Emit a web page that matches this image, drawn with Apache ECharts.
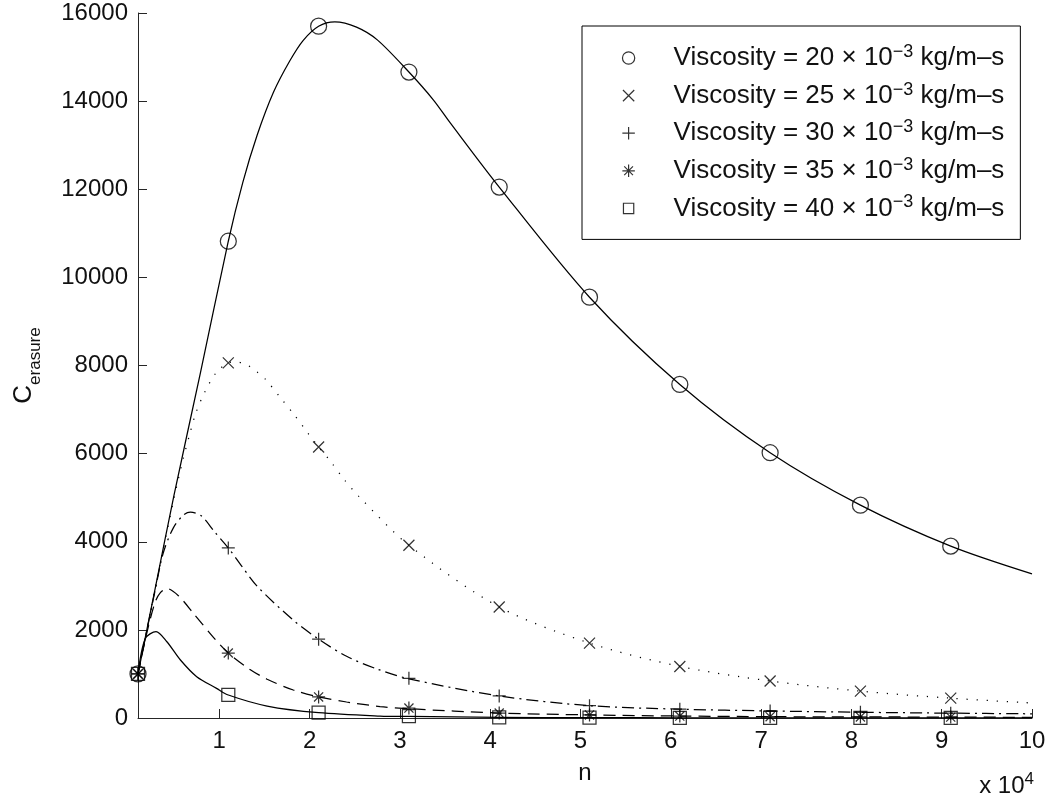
<!DOCTYPE html>
<html>
<head>
<meta charset="utf-8">
<script src="https://cdn.jsdelivr.net/npm/echarts@6/dist/echarts.min.js"></script>
<style>
html,body{margin:0;padding:0;background:#fff;}
#chart{width:1051px;height:801px;}
</style>
</head>
<body>
<div id="chart"></div>
<script>
// ---- data (x in units of 10^4) ----
const xTickValues = [1, 2, 3, 4, 5, 6, 7, 8, 9, 10];
const viscosities = [20, 25, 30, 35, 40];

const markerX  = [0.1, 1.1, 2.1, 3.1, 4.1, 5.1, 6.1, 7.1, 8.1, 9.1];
const marker20 = [1000, 10820, 15700, 14660, 12050, 9550, 7570, 6020, 4830, 3900];
const marker25 = [1000, 8060, 6150, 3920, 2520, 1700, 1170, 840, 610, 450];
const marker30 = [1000, 3860, 1790, 900, 500, 280, 200, 160, 130, 110];
const marker35 = [1000, 1475, 477, 225, 113, 70, 45, 30, 25, 20];
const marker40 = [1000, 522, 120, 40, 15, 8, 5, 3, 2, 2];

const curveX20 = [0.1, 0.3, 0.5, 0.79, 1.1, 1.26, 1.42, 1.6, 1.78, 1.93, 2.1, 2.28, 2.52, 2.75, 3.1, 3.37, 3.56, 4.1, 5.1, 6.1, 7.1, 8.1, 9.1, 10];
const curve20  = [1000, 3040, 5070, 7820, 10820, 12150, 13230, 14200, 14910, 15380, 15700, 15800, 15680, 15390, 14660, 14030, 13500, 12050, 9550, 7570, 6020, 4830, 3900, 3270];

const curveX25 = [0.1, 0.3, 0.5, 0.6, 0.67, 0.74, 0.84, 0.97, 1.1, 1.19, 1.31, 1.42, 1.51, 1.67, 1.83, 1.98, 2.1, 2.23, 2.38, 2.55, 3.1, 4.1, 5.1, 6.1, 7.1, 8.1, 9.1, 10];
const curve25  = [1000, 3040, 5000, 5880, 6420, 6920, 7400, 7850, 8060, 8080, 8010, 7850, 7690, 7290, 6880, 6470, 6150, 5830, 5420, 5020, 3920, 2520, 1700, 1170, 840, 610, 450, 340];

const curveX30 = [0.1, 0.3, 0.38, 0.49, 0.6, 0.68, 0.8, 0.95, 1.1, 1.23, 1.42, 1.82, 2.1, 2.41, 2.75, 3.1, 4.1, 5.1, 6.1, 7.1, 8.1, 9.1, 10];
const curve30  = [1000, 3000, 3750, 4310, 4600, 4670, 4590, 4220, 3860, 3500, 2990, 2220, 1790, 1400, 1110, 890, 500, 280, 200, 160, 130, 110, 95];

const curveX35 = [0.1, 0.2, 0.29, 0.35, 0.42, 0.55, 0.72, 0.94, 1.1, 1.34, 1.53, 1.82, 2.1, 2.41, 2.78, 3.1, 4.1, 5.1, 6.1, 7.1, 8.1, 9.1, 10];
const curve35  = [1000, 1950, 2630, 2850, 2940, 2770, 2360, 1820, 1475, 1100, 880, 635, 477, 363, 260, 210, 113, 70, 45, 30, 25, 20, 15];

const curveX40 = [0.1, 0.18, 0.3, 0.42, 0.57, 0.75, 0.97, 1.1, 1.53, 2.1, 2.78, 3.1, 4.1, 5.1, 6.1, 7.1, 8.1, 9.1, 10];
const curve40  = [1000, 1800, 1960, 1730, 1316, 938, 673, 522, 272, 120, 45, 35, 15, 8, 5, 3, 2, 2, 1];

const markerSets = [marker20, marker25, marker30, marker35, marker40];
const curveXs = [curveX20, curveX25, curveX30, curveX35, curveX40];
const curveYs = [curve20, curve25, curve30, curve35, curve40];

// ---- styling ----
const FONT = 'Liberation Sans, Arial, Helvetica, sans-serif';
const TXT = '#111';
const AX = '#262626';
const seriesNames = viscosities.map(v => 'Viscosity = ' + v + ' × 10−3 kg/m–s');
const symbols = [
  'circle',
  'path://M0 0L10 10M0 10L10 0',
  'path://M5 0L5 10M0 5L10 5',
  'path://M5 0L5 10M0 5L10 5M1.5 1.5L8.5 8.5M1.5 8.5L8.5 1.5',
  'path://M0 0L10 0L10 10L0 10Z'
];
// legend icons: same shapes, with invisible move-to points to leave a margin
const legendIcons = [
  'path://M-0.7 -0.7M10 5A5 5 0 1 1 0 5A5 5 0 1 1 10 5ZM10.7 10.7',
  'path://M-1.2 -1.2M0 0L10 10M0 10L10 0M11.2 11.2',
  'path://M-0.6 -0.6M5 0L5 10M0 5L10 5M10.6 10.6',
  'path://M-0.6 -0.6M5 0L5 10M0 5L10 5M1.5 1.5L8.5 8.5M1.5 8.5L8.5 1.5M10.6 10.6',
  'path://M-1.8 -1.8M0 0L10 0L10 10L0 10ZM11.8 11.8'
];
const symbolSizes = [16, 11, 13, 13, 13];
const lineTypes = ['solid', [1.2, 8.8], [12, 5, 2, 5], [12, 7], 'solid'];

const pairs = (xs, ys) => xs.map((x, i) => [x, ys[i]]);

const series = [];
for (let i = 0; i < 5; i++) {
  series.push({
    name: 'curve' + viscosities[i],
    type: 'line',
    data: pairs(curveXs[i], curveYs[i]),
    showSymbol: false,
    symbol: 'none',
    smooth: 0.3,
    silent: true,
    z: 2,
    lineStyle: { color: '#000', width: 1.25, type: lineTypes[i] }
  });
}
for (let i = 0; i < 5; i++) {
  series.push({
    name: seriesNames[i],
    type: 'scatter',
    data: pairs(markerX, markerSets[i]),
    symbol: symbols[i],
    symbolSize: symbolSizes[i],
    silent: true,
    z: 3,
    itemStyle: { color: 'rgba(0,0,0,0)', borderColor: '#000', borderWidth: 1.25 }
  });
}

const chart = echarts.init(document.getElementById('chart'), null, { renderer: 'canvas', width: 1051, height: 801 });
chart.setOption({
  animation: false,
  backgroundColor: '#fff',
  grid: { left: 138, right: 19, top: 13, bottom: 83 },
  xAxis: {
    type: 'value', min: 0.1, max: 10,
    axisLine: { show: true, onZero: false, lineStyle: { color: AX, width: 1 } },
    axisTick: { show: true, inside: true, length: 9, customValues: xTickValues, lineStyle: { color: AX } },
    axisLabel: { customValues: xTickValues, margin: 11, fontSize: 24, fontFamily: FONT, color: TXT,
      formatter: v => String(v) },
    splitLine: { show: false },
    name: 'n', nameLocation: 'middle', nameGap: 43,
    nameTextStyle: { fontSize: 24, fontFamily: FONT, color: TXT }
  },
  yAxis: {
    type: 'value', min: 0, max: 16000, interval: 2000,
    axisLine: { show: true, onZero: false, lineStyle: { color: AX, width: 1 } },
    axisTick: { show: true, inside: true, length: 9, lineStyle: { color: AX } },
    axisLabel: { margin: 10, fontSize: 24, fontFamily: FONT, color: TXT, formatter: v => String(v) },
    splitLine: { show: false },
    name: '{c|C}{s|erasure}', nameLocation: 'middle', nameRotate: 90, nameGap: 94,
    nameTextStyle: {
      color: TXT, fontFamily: FONT,
      rich: {
        c: { fontSize: 26, lineHeight: 40, fontFamily: FONT, color: TXT },
        s: { fontSize: 17, lineHeight: 17, verticalAlign: 'bottom', fontFamily: FONT, color: TXT }
      }
    }
  },
  legend: {
    orient: 'vertical', left: 582, top: 26,
    padding: [17, 16, 16, 39], itemGap: 7.6, itemWidth: 14, itemHeight: 14,
    backgroundColor: '#fff', borderColor: '#000', borderWidth: 1, borderRadius: 0,
    selectedMode: false,
    itemStyle: { color: 'rgba(0,0,0,0)', borderColor: '#000', borderWidth: 1.2 },
    data: seriesNames.map((n, i) => ({ name: n, icon: legendIcons[i] })),
    formatter: function (name) {
      const v = name.match(/= (\d+)/)[1];
      return 'Viscosity = ' + v + ' × 10{sup|−3} kg/m–s';
    },
    textStyle: {
      fontSize: 26, lineHeight: 30, fontFamily: FONT, color: TXT,
      padding: [0, 0, 0, 33],
      rich: { sup: { fontSize: 18, lineHeight: 12, verticalAlign: 'top', fontFamily: FONT, color: TXT } }
    }
  },
  graphic: [{
    type: 'text', z: 10,
    style: {
      x: 1034, y: 786, text: 'x 10{sup|4}', align: 'right', verticalAlign: 'middle',
      fontSize: 24, lineHeight: 30, fontFamily: FONT, fill: TXT,
      rich: { sup: { fontSize: 17, lineHeight: 6, verticalAlign: 'top', fontFamily: FONT, fill: TXT } }
    }
  }],
  series: series
});
</script>
</body>
</html>
